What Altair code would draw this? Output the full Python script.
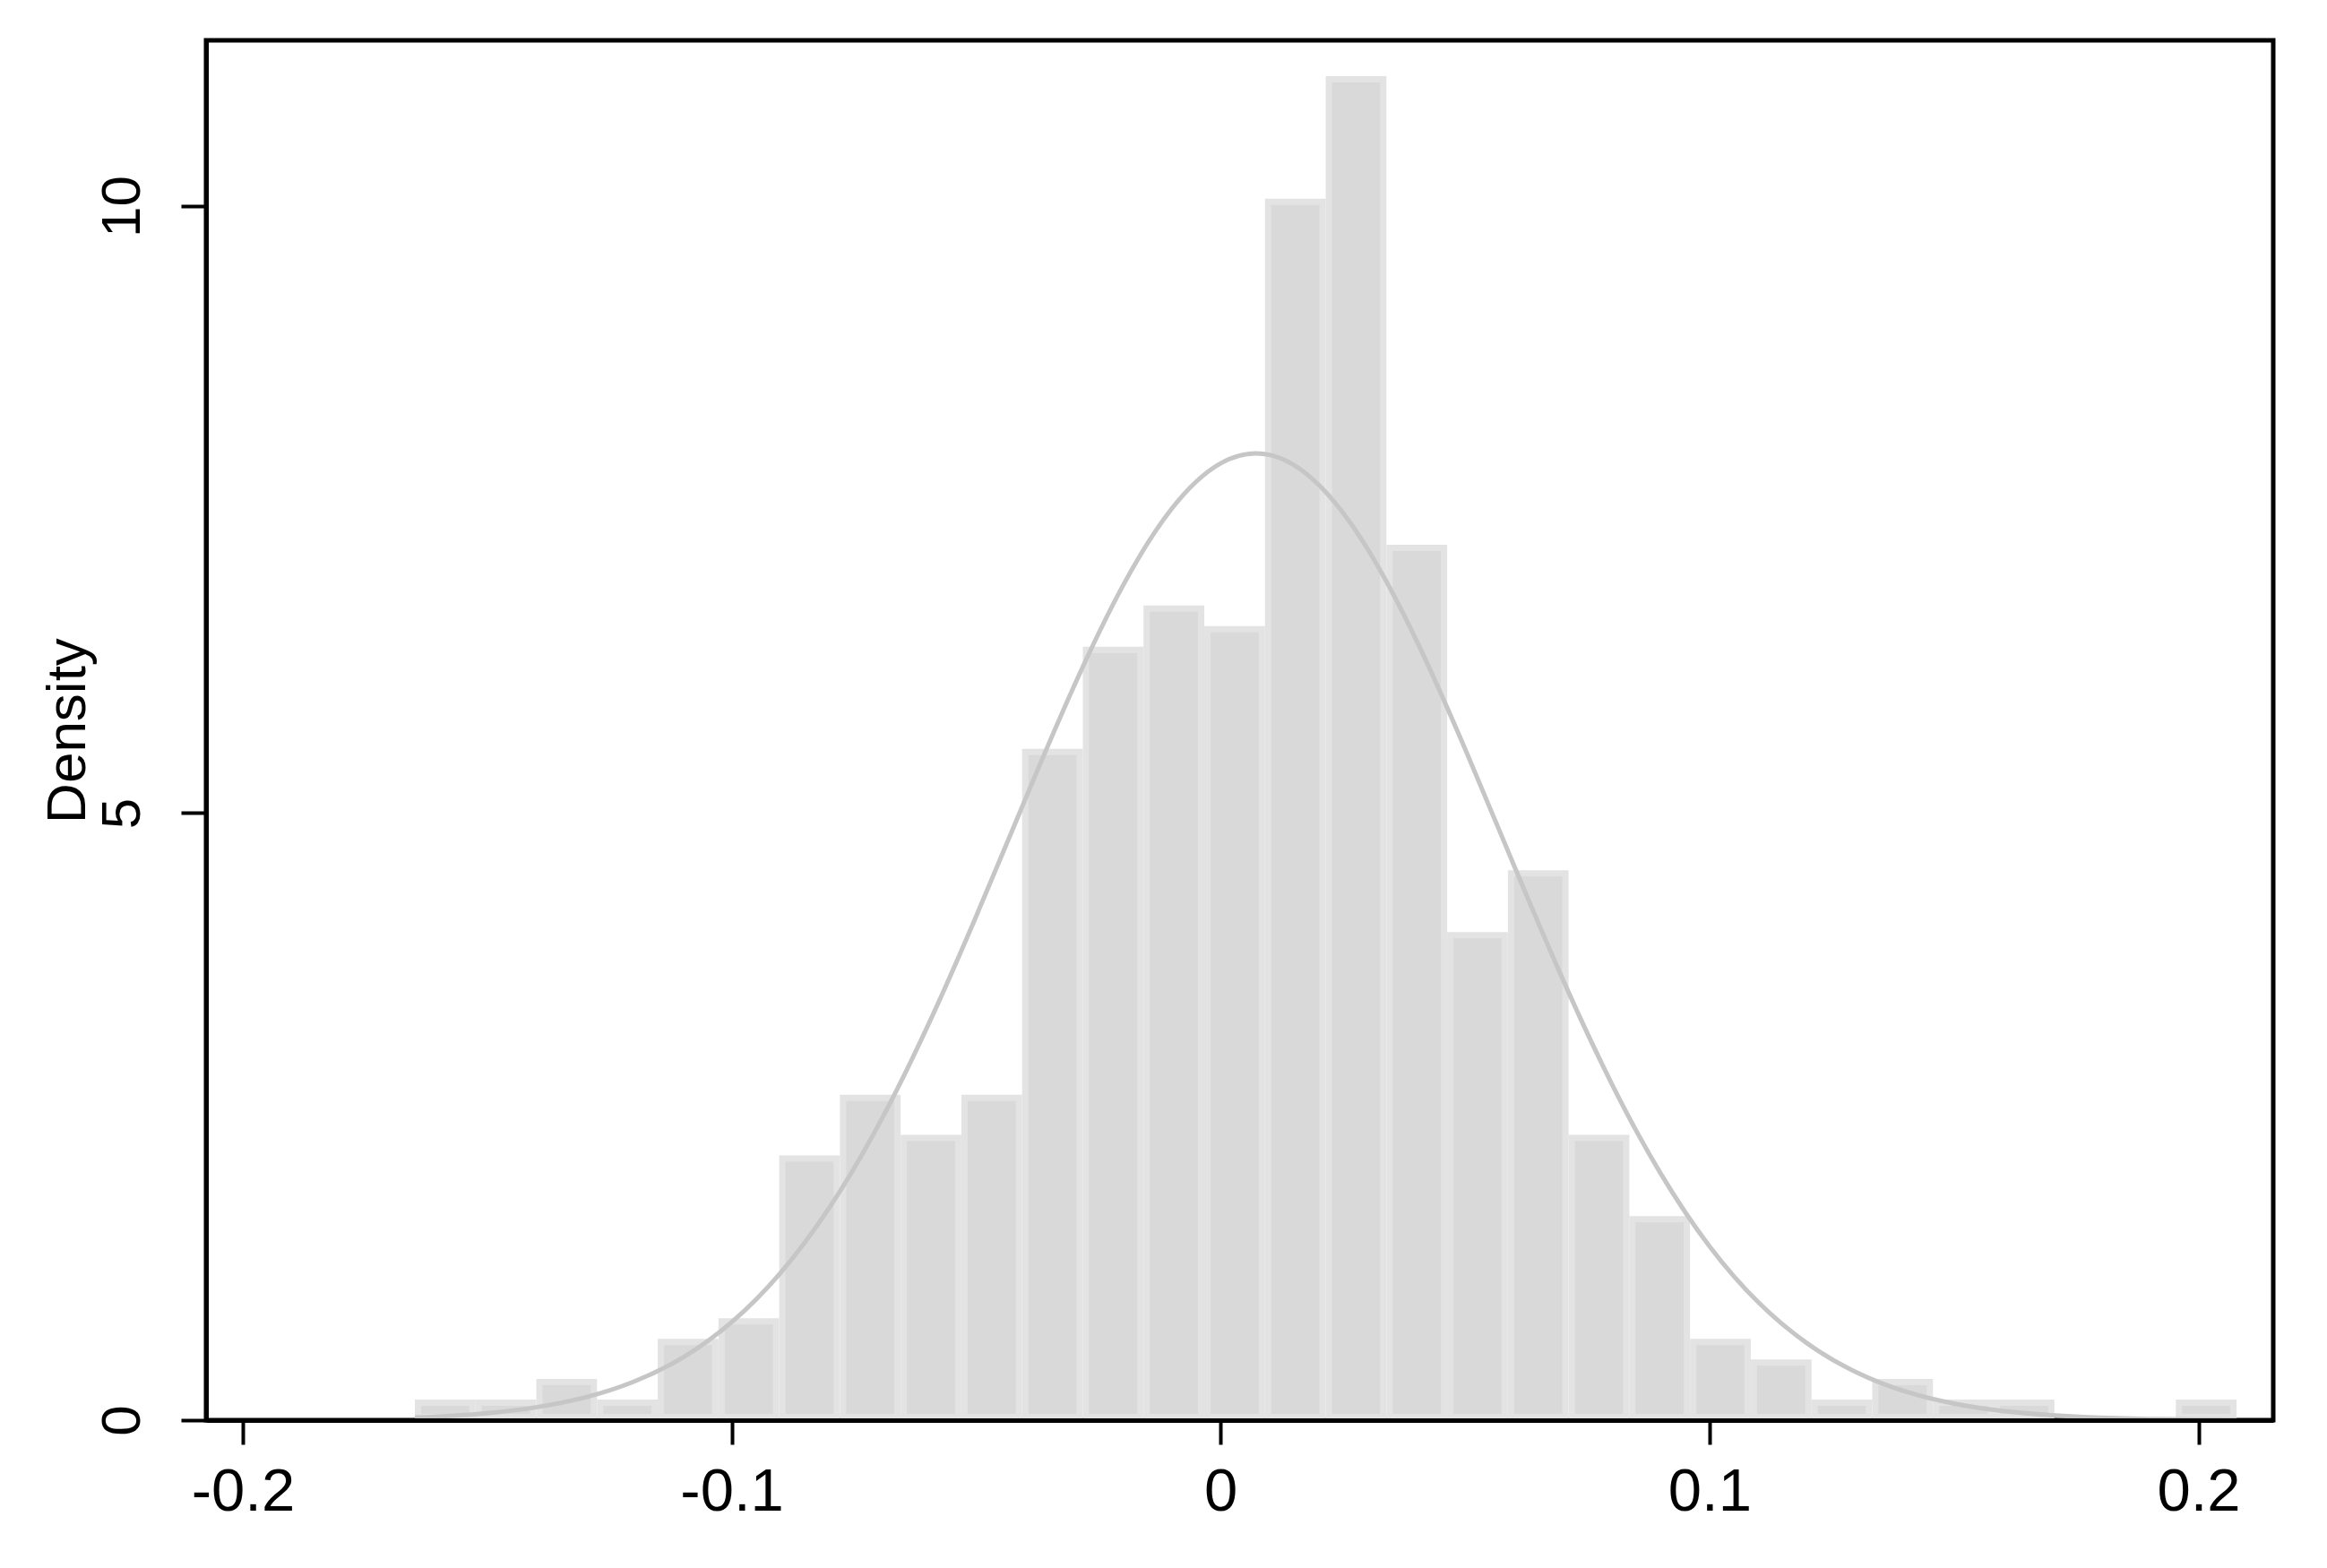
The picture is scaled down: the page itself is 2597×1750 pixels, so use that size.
import altair as alt
import pandas as pd

# Histogram bin edges
bin_edges = [-0.1648, -0.15238, -0.13996, -0.12754, -0.11512, -0.10270, -0.09028,
             -0.07786, -0.06544, -0.05302, -0.04060, -0.02818, -0.01576, -0.00334,
             0.00908, 0.02150, 0.03392, 0.04634, 0.05876, 0.07118, 0.08360, 0.09602,
             0.10844, 0.12086, 0.13328, 0.14570, 0.15812, 0.17054, 0.18296, 0.19538,
             0.20780]
# Bar heights (density)
densities = [0.17, 0.17, 0.34, 0.17, 0.67, 0.84, 2.18, 2.68, 2.35, 2.68,
             5.53, 6.37, 6.71, 6.54, 10.06, 11.07, 7.21, 4.02, 4.53, 2.35,
             1.68, 0.67, 0.50, 0.17, 0.34, 0.17, 0.17, 0.0, 0.0, 0.17]

# Normal density overlay
curve_x = [-0.1648, -0.16, -0.15, -0.14, -0.13, -0.12, -0.11, -0.10, -0.09, -0.08,
           -0.07, -0.06, -0.05, -0.04, -0.03, -0.02, -0.01, 0.00, 0.01, 0.02,
           0.03, 0.04, 0.05, 0.06, 0.07, 0.08, 0.09, 0.10, 0.11, 0.12,
           0.13, 0.14, 0.15, 0.16, 0.17, 0.18, 0.19, 0.20, 0.2078]
curve_y = [0.022, 0.030, 0.058, 0.106, 0.187, 0.317, 0.516, 0.807, 1.213, 1.751,
           2.429, 3.239, 4.150, 5.109, 6.044, 6.872, 7.507, 7.881, 7.951, 7.707,
           7.180, 6.427, 5.529, 4.570, 3.630, 2.771, 2.032, 1.432, 0.970, 0.632,
           0.395, 0.237, 0.137, 0.076, 0.041, 0.021, 0.010, 0.005, 0.003]

x_ticks = [-0.2, -0.1, 0, 0.1, 0.2]
y_ticks = [0, 5, 10]

bars_df = pd.DataFrame({"start": bin_edges[:-1], "end": bin_edges[1:], "density": densities})
curve_df = pd.DataFrame({"x": curve_x, "y": curve_y})

FONT = "Liberation Sans"

xscale = alt.Scale(domain=[-0.2075, 0.2153], nice=False, zero=False)
yscale = alt.Scale(domain=[0, 11.365], nice=False, zero=False)

xaxis = alt.Axis(
    values=x_ticks, title=None, grid=False,
    labelExpr="datum.value == 0 ? '0' : (datum.value < 0 ? '-' + format(-datum.value, '.1f') : format(datum.value, '.1f'))",
    labelFont=FONT, labelFontSize=67, labelColor="black", labelPadding=20,
    labelFlush=False, labelOverlap=False,
    tickColor="black", tickWidth=4, tickSize=27,
    domainColor="black", domainWidth=5, zindex=1,
)
yaxis = alt.Axis(
    values=y_ticks, grid=False, title="Density",
    labelExpr="format(datum.value, 'd')",
    labelAngle=270, labelAlign="center", labelBaseline="alphabetic",
    labelFont=FONT, labelFontSize=62, labelColor="black", labelPadding=47,
    labelFlush=False, labelOverlap=False,
    tickColor="black", tickWidth=4, tickSize=28,
    domainColor="black", domainWidth=5, zindex=1,
    titleFont=FONT, titleFontSize=62, titleFontWeight="normal", titleColor="black",
    titleAngle=270, titleAlign="center", titleBaseline="alphabetic",
    titleX=-136, titleY=770,
)

bars = alt.Chart(bars_df).transform_filter(
    alt.datum.density > 0
).mark_bar(
    fill="#d9d9d9", stroke="#e3e3e3", strokeWidth=7,
    xOffset=3.5, x2Offset=-3.5, yOffset=3.5, y2Offset=-3.5,
).encode(
    x=alt.X("start:Q", scale=xscale, axis=xaxis),
    x2="end:Q",
    y=alt.Y("density:Q", scale=yscale, axis=yaxis),
    y2=alt.datum(0),
)

curve = alt.Chart(curve_df).mark_line(
    color="#c6c6c6", strokeWidth=5, interpolate="natural"
).encode(
    x=alt.X("x:Q", scale=xscale),
    y=alt.Y("y:Q", scale=yscale),
)

chart = alt.layer(bars, curve).properties(
    width=2307, height=1540,
    autosize=alt.AutoSizeParams(type="none"),
    padding={"left": 222, "top": 37, "right": 52, "bottom": 157},
    background="white",
).configure_view(stroke="black", strokeWidth=5)

chart.save("out.html", embed_options={"renderer": "svg", "actions": False})
